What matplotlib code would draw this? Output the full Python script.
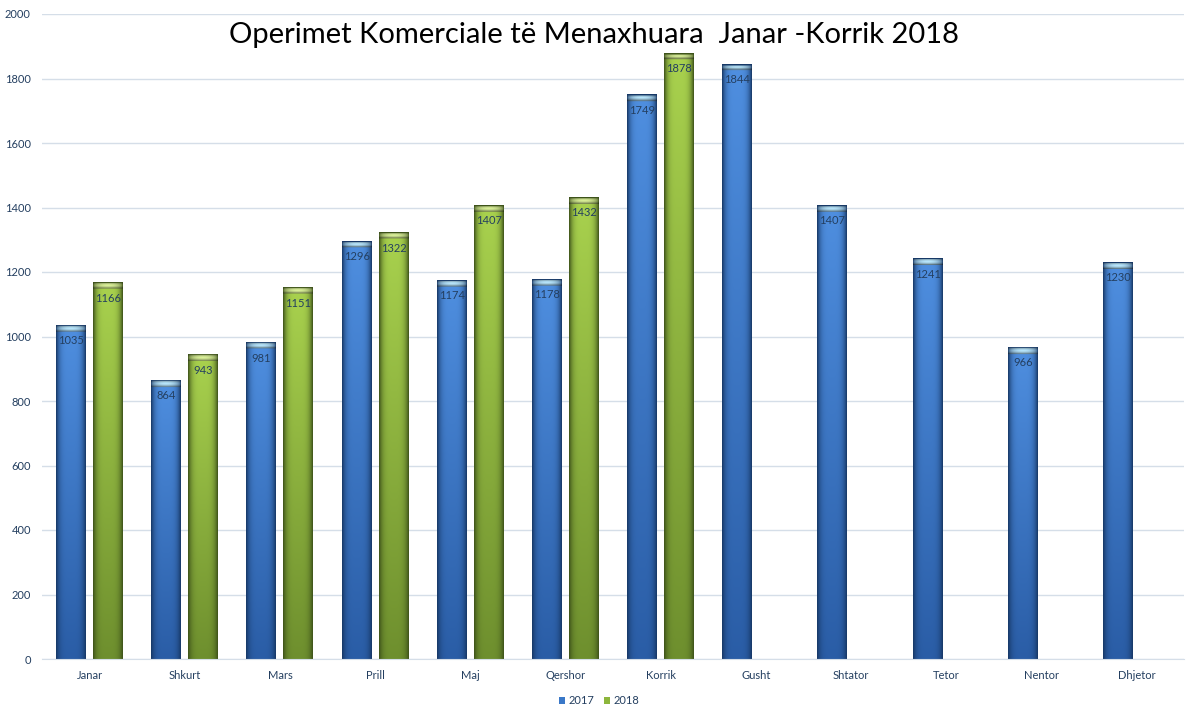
import numpy as np
import matplotlib.pyplot as plt
from matplotlib.colors import to_rgb

months = ['Janar', 'Shkurt', 'Mars', 'Prill', 'Maj', 'Qershor', 'Korrik',
          'Gusht', 'Shtator', 'Tetor', 'Nentor', 'Dhjetor']
v2017 = [1035, 864, 981, 1296, 1174, 1178, 1749, 1844, 1407, 1241, 966, 1230]
v2018 = [1166, 943, 1151, 1322, 1407, 1432, 1878]

plt.rcParams['font.family'] = ['Lato', 'DejaVu Sans']

fig = plt.figure(figsize=(11.98, 7.18), dpi=100)
ax = fig.add_axes([42 / 1198, 59 / 718, 1142 / 1198, 645 / 718])

txt_col = '#243F60'
grid_col = '#D5DEE8'


def shade(rect, top, bottom, edge, cap):
    x0 = rect.get_x()
    w = rect.get_width()
    h = rect.get_height()
    H, W = 400, 60
    u = np.linspace(-1, 1, W)
    prof = 1 - np.abs(u) ** 4          # bright middle, dark sides
    v = np.linspace(0, 1, H)[:, None]  # 0 bottom -> 1 top
    top, bottom, edge, cap = map(np.array, map(to_rgb, (top, bottom, edge, cap)))
    base = bottom + (top - bottom) * v[..., None]
    img = edge + (base - edge) * prof[None, :, None]
    # light cap at the top of the bar (about 20 data units tall)
    capn = max(int(H * 22 / h), 2)
    cm = 1 - np.abs(u) ** 2
    rows = np.linspace(0, 1, capn)[:, None, None]
    capimg = edge + (cap - edge) * cm[None, :, None] ** 0.5
    img[-capn:] = capimg * (0.55 + 0.45 * np.sin(np.pi * rows))
    img[-1:] = edge
    img = np.clip(img, 0, 1)
    ax.imshow(img, extent=(x0, x0 + w, 0, h), origin='lower', aspect='auto',
              zorder=2, interpolation='bilinear')


x = np.arange(len(months))
bw = 0.315
off = 0.194
b1 = ax.bar(x - off, v2017, bw, color='#3A78C8', label='2017', zorder=1)
b2 = ax.bar(x[:len(v2018)] + off, v2018, bw, color='#8DB63C', label='2018', zorder=1)

for r in b1:
    shade(r, '#4F8FE0', '#2A5DA6', '#173866', '#B8E6FC')
for r in b2:
    shade(r, '#A9D24E', '#6E8F2E', '#3E531A', '#DCF29A')

for bars, vals in ((b1, v2017), (b2, v2018)):
    for r, v in zip(bars, vals):
        ax.text(r.get_x() + r.get_width() / 2, v - 48, str(v), ha='center',
                va='center', fontsize=8, color=txt_col, zorder=3)

ax.set_xlim(-0.5, len(months) - 0.5)
ax.set_ylim(0, 2000)
ax.set_yticks(range(0, 2001, 200))
ax.set_xticks(x)
ax.set_xticklabels(months)
ax.tick_params(axis='both', length=0, labelsize=8, colors=txt_col)
ax.tick_params(axis='x', pad=8)
ax.tick_params(axis='y', pad=8)
ax.yaxis.grid(True, color=grid_col, lw=1)
ax.set_axisbelow(True)
for s in ('top', 'right', 'left'):
    ax.spines[s].set_visible(False)
ax.spines['bottom'].set_color(grid_col)

fig.text(0.496, 0.951, 'Operimet Komerciale të Menaxhuara  Janar -Korrik 2018',
         ha='center', va='center', fontsize=21, color='black')

leg = fig.legend(handles=[b1, b2], labels=['2017', '2018'], loc='center',
                 bbox_to_anchor=(0.5, 0.024), ncol=2, frameon=False,
                 fontsize=8, handlelength=0.6, handleheight=0.6,
                 handletextpad=0.3, columnspacing=0.8)
for t in leg.get_texts():
    t.set_color(txt_col)

plt.savefig('out.png', dpi=100)
